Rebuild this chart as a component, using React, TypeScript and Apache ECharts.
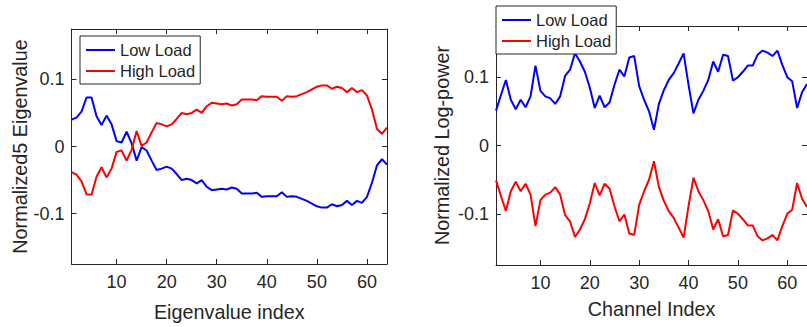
import React, { useEffect, useRef } from "react";
import * as echarts from "echarts";

// ---- Left panel: normalized eigenvalues (index 1..64) ----
const eigLow: number[] = [
  0.040, 0.043, 0.052, 0.073, 0.073, 0.045, 0.032, 0.046, 0.033, 0.008,
  0.006, 0.022, 0.005, -0.021, -0.001, -0.006, -0.021, -0.035, -0.033, -0.030,
  -0.033, -0.041, -0.050, -0.048, -0.050, -0.055, -0.050, -0.060, -0.065, -0.064,
  -0.063, -0.064, -0.061, -0.063, -0.070, -0.070, -0.070, -0.069, -0.075, -0.074,
  -0.074, -0.074, -0.068, -0.075, -0.074, -0.075, -0.078, -0.081, -0.085, -0.089,
  -0.091, -0.091, -0.086, -0.089, -0.087, -0.081, -0.087, -0.081, -0.084, -0.075,
  -0.054, -0.028, -0.019, -0.027,
];
const eigHigh: number[] = [
  -0.038, -0.042, -0.052, -0.071, -0.072, -0.045, -0.031, -0.046, -0.033, -0.008,
  -0.006, -0.021, -0.005, 0.023, 0.001, 0.006, 0.021, 0.035, 0.033, 0.030,
  0.033, 0.041, 0.050, 0.048, 0.050, 0.055, 0.050, 0.060, 0.065, 0.064,
  0.063, 0.064, 0.061, 0.063, 0.070, 0.070, 0.070, 0.069, 0.075, 0.074,
  0.074, 0.074, 0.068, 0.075, 0.074, 0.075, 0.078, 0.081, 0.085, 0.089,
  0.091, 0.091, 0.086, 0.089, 0.087, 0.081, 0.087, 0.081, 0.084, 0.076,
  0.055, 0.026, 0.019, 0.028,
];

// ---- Right panel: normalized log-power per channel (1..64) ----
const chLow: number[] = [
  0.051, 0.074, 0.096, 0.067, 0.053, 0.067, 0.056, 0.072, 0.117, 0.080,
  0.072, 0.069, 0.061, 0.072, 0.102, 0.111, 0.135, 0.123, 0.108, 0.085,
  0.055, 0.073, 0.056, 0.063, 0.089, 0.111, 0.101, 0.129, 0.131, 0.087,
  0.067, 0.050, 0.023, 0.061, 0.081, 0.096, 0.106, 0.120, 0.135, 0.089,
  0.047, 0.067, 0.080, 0.096, 0.123, 0.108, 0.133, 0.131, 0.095, 0.100,
  0.108, 0.117, 0.117, 0.133, 0.139, 0.136, 0.131, 0.139, 0.118, 0.100,
  0.094, 0.055, 0.078, 0.090,
];
const chHigh: number[] = [
  -0.051, -0.074, -0.096, -0.067, -0.053, -0.067, -0.056, -0.072, -0.118, -0.080,
  -0.072, -0.069, -0.061, -0.072, -0.102, -0.111, -0.134, -0.123, -0.108, -0.085,
  -0.055, -0.073, -0.056, -0.063, -0.089, -0.111, -0.101, -0.129, -0.131, -0.087,
  -0.067, -0.050, -0.023, -0.061, -0.081, -0.096, -0.106, -0.120, -0.135, -0.089,
  -0.047, -0.067, -0.080, -0.096, -0.123, -0.108, -0.133, -0.131, -0.095, -0.100,
  -0.108, -0.117, -0.117, -0.133, -0.139, -0.136, -0.131, -0.139, -0.118, -0.100,
  -0.094, -0.055, -0.078, -0.090,
];

const xTicks = [10, 20, 30, 40, 50, 60];
const yTicks = [-0.1, 0, 0.1];
const seriesNames = ["Low Load", "High Load"];

const INK = "#262626";
const FONT = "'Liberation Sans', Arial, Helvetica, sans-serif";

const toPairs = (arr: number[]) => arr.map((v, i) => [i + 1, v]);

function xAxes(grid: number, name: string, nameGap: number) {
  const common = {
    gridIndex: grid,
    type: "value" as const,
    min: 1,
    max: 64,
    splitLine: { show: false },
    axisLine: { show: true, onZero: false, lineStyle: { color: INK, width: 1 } },
    axisTick: { show: true, inside: true, length: 5, customValues: xTicks, lineStyle: { color: INK } },
  };
  return [
    {
      ...common,
      position: "bottom",
      axisLabel: {
        show: true,
        customValues: xTicks,
        color: INK,
        fontSize: 18,
        fontFamily: FONT,
        margin: 9,
        formatter: (v: number) => String(v),
      },
      name,
      nameLocation: "middle",
      nameGap,
      nameTextStyle: { color: INK, fontSize: 19.8, fontFamily: FONT },
    },
    { ...common, position: "top", axisLabel: { show: false } },
  ];
}

function yAxes(grid: number, name: string, nameGap: number) {
  const common = {
    gridIndex: grid,
    type: "value" as const,
    min: -0.175,
    max: 0.175,
    splitLine: { show: false },
    axisLine: { show: true, onZero: false, lineStyle: { color: INK, width: 1 } },
    axisTick: { show: true, inside: true, length: 5, customValues: yTicks, lineStyle: { color: INK } },
  };
  return [
    {
      ...common,
      position: "left",
      axisLabel: {
        show: true,
        customValues: yTicks,
        color: INK,
        fontSize: 18,
        fontFamily: FONT,
        margin: 7,
        formatter: (v: number) => String(Math.round(v * 10) / 10),
      },
      name,
      nameLocation: "middle",
      nameGap,
      nameRotate: 90,
      nameTextStyle: { color: INK, fontSize: 19.8, fontFamily: FONT },
    },
    { ...common, position: "right", axisLabel: { show: false } },
  ];
}

function legend(left: number, top: number) {
  return {
    left,
    top,
    orient: "vertical",
    data: seriesNames,
    selectedMode: false,
    icon: "rect",
    itemWidth: 29,
    itemHeight: 2,
    itemGap: 1,
    padding: [4, 5, 3, 6],
    backgroundColor: "#ffffff",
    borderColor: INK,
    borderWidth: 1,
    borderRadius: 0,
    z: 10,
    textStyle: { color: INK, fontSize: 16.5, fontFamily: FONT, lineHeight: 20 },
  };
}

export default function App() {
  const ref = useRef<HTMLDivElement>(null);
  useEffect(() => {
    if (!ref.current) return;
    const chart = echarts.init(ref.current, undefined, { renderer: "svg" });
    const line = (name: string, color: string, data: number[], axis: number) => ({
      type: "line",
      name,
      data: toPairs(data),
      xAxisIndex: axis,
      yAxisIndex: axis,
      showSymbol: false,
      symbol: "none",
      smooth: false,
      color,
      lineStyle: { color, width: 2 },
      z: 3,
    });
    chart.setOption({
      animation: false,
      backgroundColor: "#ffffff",
      textStyle: { fontFamily: FONT },
      grid: [
        { left: 71.5, top: 29, width: 315.5, height: 238 },
        { left: 496, top: 26, width: 316, height: 239 },
      ],
      xAxis: [...xAxes(0, "Eigenvalue index", 38), ...xAxes(1, "Channel Index", 34)],
      yAxis: [...yAxes(0, "Normalized5 Eigenvalue", 42), ...yAxes(1, "Normalized Log-power", 44)],
      legend: [legend(80, 36), legend(496, 6)],
      series: [
        line(seriesNames[0], "#0000ff", eigLow, 0),
        line(seriesNames[1], "#ff0000", eigHigh, 0),
        line(seriesNames[0], "#0000ff", chLow, 2),
        line(seriesNames[1], "#ff0000", chHigh, 2),
      ],
    });
    return () => chart.dispose();
  }, []);
  return (
    <div
      ref={ref}
      style={{ position: "fixed", left: 0, top: 0, width: 807, height: 327, background: "#ffffff" }}
    />
  );
}
